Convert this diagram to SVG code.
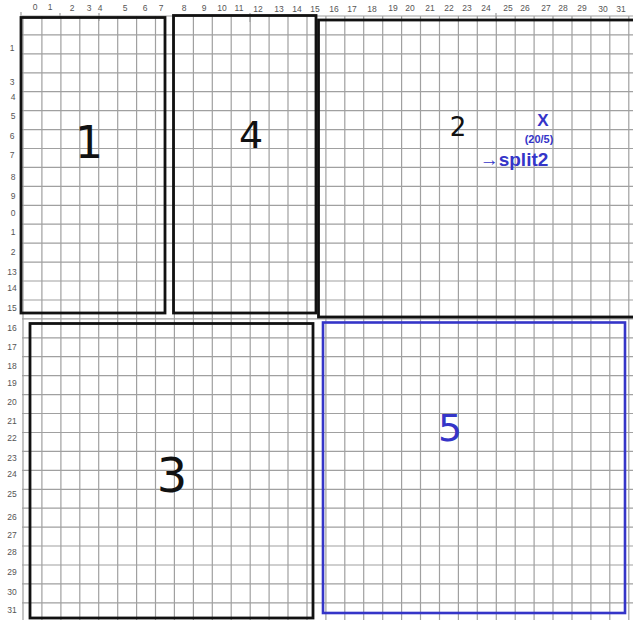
<svg xmlns="http://www.w3.org/2000/svg" width="633" height="620" viewBox="0 0 633 620">
<style>
.grid{stroke:#a0a0a0;stroke-width:1.2;fill:none}
.ax{font-family:"Liberation Sans",Arial,sans-serif;font-size:8.5px;fill:#555;text-anchor:middle}
.box{fill:none;stroke:#111;stroke-width:2.8}
.bbox{fill:none;stroke:#3535c8;stroke-width:2.6}
.big{font-family:"DejaVu Sans","Liberation Sans",sans-serif;font-weight:normal;fill:#111;text-anchor:middle}
.blue{font-family:"Liberation Sans",Arial,sans-serif;font-weight:bold;fill:#3535c8;text-anchor:middle}
</style>
<rect width="633" height="620" fill="#fff"/>
<g id="grid">
<path class="grid" d="M23,16V620M41.9,16V620M60.9,16V620M79.8,16V620M98.7,16V620M117.7,16V620M136.6,16V620M155.5,16V620M174.4,16V620M193.4,16V620M212.3,16V620M231.2,16V620M250.2,16V620M269.1,16V620M288,16V620M307,16V620M325.9,16V620M344.8,16V620M363.7,16V620M382.7,16V620M401.6,16V620M420.5,16V620M439.5,16V620M458.4,16V620M477.3,16V620M496.3,16V620M515.2,16V620M534.1,16V620M553,16V620M572,16V620M590.9,16V620M609.8,16V620M628.8,16V620"/>
<path class="grid" d="M22,16H633M22,34.9H633M22,53.9H633M22,72.8H633M22,91.7H633M22,110.7H633M22,129.6H633M22,148.5H633M22,167.4H633M22,186.4H633M22,205.3H633M22,224.2H633M22,243.2H633M22,262.1H633M22,281H633M22,300H633M22,318.9H633M22,337.8H633M22,356.7H633M22,375.7H633M22,394.6H633M22,413.5H633M22,432.5H633M22,451.4H633M22,470.3H633M22,489.3H633M22,508.2H633M22,527.1H633M22,546H633M22,565H633M22,583.9H633M22,602.8H633"/>
<path class="grid" stroke="#888" d="M21,12V17M60,13V18M99,13V21M250,13V22M496,13V19"/>
</g>
<g id="axis-top">
<text class="ax" x="35" y="10">0</text><text class="ax" x="50" y="10">1</text><text class="ax" x="72" y="11">2</text><text class="ax" x="89" y="11">3</text><text class="ax" x="100" y="11">4</text><text class="ax" x="125" y="11">5</text><text class="ax" x="145" y="11">6</text><text class="ax" x="161" y="11">7</text><text class="ax" x="184" y="11">8</text><text class="ax" x="204" y="11">9</text><text class="ax" x="222" y="11">10</text><text class="ax" x="239" y="11">11</text><text class="ax" x="258" y="12">12</text><text class="ax" x="279" y="12">13</text><text class="ax" x="297" y="12">14</text><text class="ax" x="315" y="12">15</text>
<text class="ax" x="334" y="12">16</text><text class="ax" x="352" y="12">17</text><text class="ax" x="372" y="12">18</text><text class="ax" x="393" y="11">19</text><text class="ax" x="410" y="11">20</text><text class="ax" x="430" y="11">21</text><text class="ax" x="449" y="11">22</text><text class="ax" x="467" y="11">23</text><text class="ax" x="486" y="11">24</text><text class="ax" x="508" y="11">25</text><text class="ax" x="525" y="11">26</text><text class="ax" x="546" y="11">27</text><text class="ax" x="563" y="11">28</text><text class="ax" x="582" y="11">29</text><text class="ax" x="603" y="12">30</text><text class="ax" x="621" y="12">31</text>
</g>
<g id="axis-left">
<text class="ax" x="12" y="51">1</text><text class="ax" x="12" y="85">3</text><text class="ax" x="13" y="100">4</text><text class="ax" x="13" y="119">5</text><text class="ax" x="12" y="139">6</text><text class="ax" x="12" y="158">7</text><text class="ax" x="13" y="180">8</text><text class="ax" x="13" y="199">9</text><text class="ax" x="13" y="216">0</text><text class="ax" x="13" y="235">1</text><text class="ax" x="13" y="255">2</text><text class="ax" x="12" y="275">13</text><text class="ax" x="12" y="291">14</text><text class="ax" x="12" y="311">15</text>
<text class="ax" x="12" y="331">16</text><text class="ax" x="12" y="350">17</text><text class="ax" x="12" y="369">18</text><text class="ax" x="12" y="386">19</text><text class="ax" x="12" y="405">20</text><text class="ax" x="12" y="424">21</text><text class="ax" x="12" y="441">22</text><text class="ax" x="12" y="461">23</text><text class="ax" x="12" y="477">24</text><text class="ax" x="12" y="497">25</text><text class="ax" x="12" y="520">26</text><text class="ax" x="12" y="538">27</text><text class="ax" x="12" y="555">28</text><text class="ax" x="12" y="575">29</text><text class="ax" x="12" y="595">30</text><text class="ax" x="12" y="613">31</text>
</g>
<g id="box1"><rect class="box" x="21" y="17.5" width="144" height="295.5"/><text class="big" x="89" y="158" font-size="44">1</text></g>
<g id="box4"><rect class="box" x="173.5" y="15.5" width="142.5" height="297.5"/><text class="big" x="251" y="148" font-size="38">4</text></g>
<g id="box2"><rect class="box" x="318.5" y="20" width="318" height="297"/><text class="big" x="458" y="136" font-size="26">2</text>
<text class="blue" x="543" y="126" font-size="17">X</text><text class="blue" x="539" y="143" font-size="11">(20/5)</text><text class="blue" x="514" y="166" font-size="19">→split2</text></g>
<g id="box3"><rect class="box" x="30" y="323.5" width="283" height="294.5"/><text class="big" x="172" y="492" font-size="48">3</text></g>
<g id="box5"><rect class="bbox" x="323" y="322.5" width="302" height="290.5"/><text class="big" x="450" y="441" font-size="38" style="fill:#3535c8">5</text></g>
</svg>
